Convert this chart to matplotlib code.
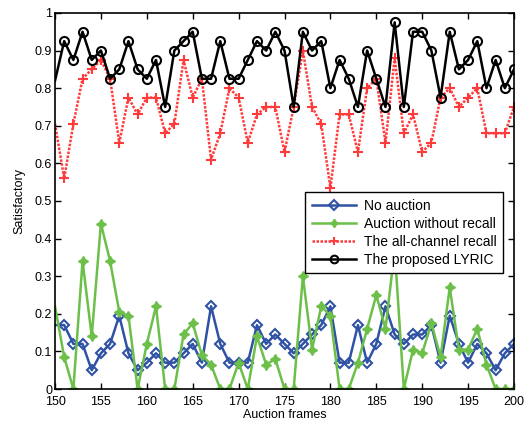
import numpy as np
import matplotlib
matplotlib.use("Agg")
import matplotlib.pyplot as plt

plt.rcParams["font.family"] = ["Liberation Sans", "DejaVu Sans"]

frames = list(range(150, 201))

no_auction = [0.17, 0.17, 0.12, 0.12, 0.05, 0.095, 0.12, 0.195, 0.095, 0.05,
              0.07, 0.095, 0.07, 0.07, 0.095, 0.12, 0.07, 0.22, 0.12, 0.07,
              0.07, 0.07, 0.17, 0.12, 0.145, 0.12, 0.095, 0.12, 0.145, 0.17,
              0.22, 0.07, 0.07, 0.17, 0.07, 0.12, 0.22, 0.145, 0.12, 0.145,
              0.145, 0.17, 0.07, 0.195, 0.12, 0.07, 0.12, 0.095, 0.05, 0.095, 0.12]

no_recall = [0.22, 0.085, 0.0, 0.34, 0.14, 0.44, 0.34, 0.205, 0.195, 0.0,
             0.12, 0.22, 0.0, 0.0, 0.145, 0.175, 0.09, 0.065, 0.0, 0.0,
             0.07, 0.0, 0.14, 0.065, 0.08, 0.0, 0.0, 0.3, 0.105, 0.22,
             0.195, 0.0, 0.0, 0.07, 0.16, 0.25, 0.16, 0.37, 0.0, 0.105,
             0.095, 0.175, 0.085, 0.27, 0.105, 0.105, 0.16, 0.065, 0.0, 0.0, 0.0]

all_channel = [0.705, 0.56, 0.705, 0.825, 0.85, 0.875, 0.825, 0.655, 0.775, 0.73,
               0.775, 0.775, 0.68, 0.705, 0.875, 0.775, 0.825, 0.61, 0.68, 0.8,
               0.775, 0.655, 0.73, 0.75, 0.75, 0.63, 0.75, 0.9, 0.75, 0.705,
               0.535, 0.73, 0.73, 0.63, 0.8, 0.825, 0.655, 0.88, 0.68, 0.73,
               0.63, 0.655, 0.775, 0.8, 0.75, 0.775, 0.8, 0.68, 0.68, 0.68, 0.75]

lyric = [0.82, 0.925, 0.875, 0.95, 0.875, 0.9, 0.825, 0.85, 0.925, 0.85,
         0.825, 0.875, 0.75, 0.9, 0.925, 0.95, 0.825, 0.825, 0.925, 0.825,
         0.825, 0.875, 0.925, 0.9, 0.95, 0.9, 0.75, 0.95, 0.9, 0.925,
         0.8, 0.875, 0.825, 0.75, 0.9, 0.825, 0.75, 0.975, 0.75, 0.95,
         0.95, 0.9, 0.775, 0.95, 0.85, 0.875, 0.925, 0.8, 0.875, 0.8, 0.85]

labels = ["No auction", "Auction without recall",
          "The all-channel recall", "The proposed LYRIC"]

fig = plt.figure(figsize=(5.3, 4.24), dpi=100)
ax = fig.add_axes([0.1038, 0.0825, 0.866, 0.887])

skip = slice(1, None)  # first point sits on the axis edge without a marker
ax.plot(frames, no_auction, color="#2f52a4", lw=1.8, marker="D", ms=5.5,
        mfc="none", mec="#2f52a4", mew=1.5, markevery=skip, label=labels[0])
ax.plot(frames, no_recall, color="#6cc04a", lw=1.8, marker=(4, 1, 0), ms=7,
        mfc="#6cc04a", mec="#6cc04a", mew=1.2, markevery=skip, label=labels[1])
ax.plot(frames, all_channel, color="#ff3b3b", lw=1.8, ls=(0, (1, 0.6)),
        marker="+", ms=7.5, mew=1.5, markevery=skip, label=labels[2])
ax.plot(frames, lyric, color="black", lw=1.8, marker="o", ms=6.5,
        mfc="none", mec="black", mew=1.5, markevery=skip, label=labels[3])

ax.set_xlim(150, 200)
ax.set_ylim(0, 1)
ax.set_xticks(np.arange(150, 201, 5))
yt = np.round(np.arange(0, 1.01, 0.1), 1)
ax.set_yticks(yt)
ax.set_yticklabels(["0"] + ["%.1f" % v for v in yt[1:-1]] + ["1"])
ax.tick_params(direction="in", top=True, right=True, labelsize=9,
               length=4, width=1)
ax.tick_params(axis="y", pad=2)
ax.tick_params(axis="x", pad=5)
for s in ax.spines.values():
    s.set_linewidth(1.2)

ax.set_xlabel("Auction frames", fontsize=9, labelpad=1)
ax.set_ylabel("Satisfactory", fontsize=9, labelpad=7)

leg = ax.legend(loc="upper right", bbox_to_anchor=(0.977, 0.523),
                borderaxespad=0, fontsize=10, handlelength=3.2, numpoints=1,
                fancybox=False, framealpha=1, edgecolor="black",
                labelspacing=0.3, borderpad=0.45, handletextpad=0.6,
                markerscale=0.85)
leg.get_frame().set_linewidth(1.0)

fig.savefig("out.png", dpi=100)
